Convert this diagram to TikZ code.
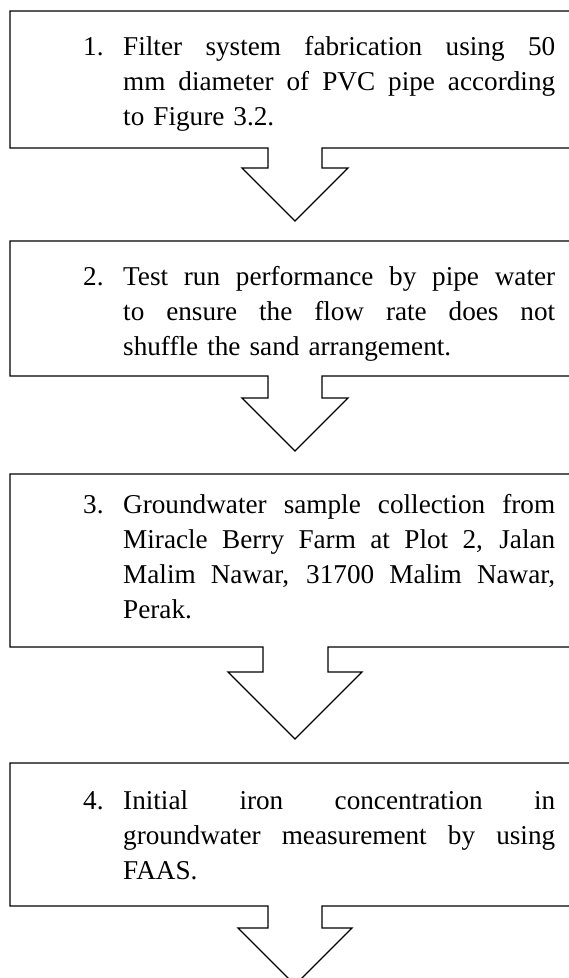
\documentclass[tikz,border=0pt]{standalone}
\usepackage{fontspec}
\setmainfont{Liberation Serif}
\newcommand\jline[1]{\leavevmode{\spaceskip=0.25em plus 1fill\relax\hbox to 432pt{#1}}}
\begin{document}
\begin{tikzpicture}[x=1pt,y=-1pt,
  outline/.style={draw=black,line width=1.3pt,line join=miter},
  txt/.style={anchor=base west,inner sep=0pt,text width=432pt,align=left,
    font=\fontsize{27.2}{35}\selectfont},
  num/.style={anchor=base west,inner sep=0pt,font=\fontsize{27.2}{35}\selectfont}]
\useasboundingbox (0,0) rectangle (569,978);
\clip (0,0) rectangle (569,978);
% box 1
\draw[outline] (590,11) -- (10,11) -- (10,148) -- (268,148) -- (268,168) -- (242,168)
  -- (295,221) -- (348,168) -- (322,168) -- (322,148) -- (590,148);
\node[num] (n1) at (83,55) {1.};
\node[txt] (t1) at (123,55) {\jline{Filter system fabrication using 50}\\
  \jline{mm diameter of PVC pipe according}\\ to Figure 3.2.};
% box 2
\draw[outline] (590,241) -- (10,241) -- (10,376) -- (268,376) -- (268,398) -- (242,398)
  -- (295,451) -- (348,398) -- (322,398) -- (322,376) -- (590,376);
\node[num] (n2) at (83,285) {2.};
\node[txt] (t2) at (123,285) {\jline{Test run performance by pipe water}\\
  \jline{to ensure the flow rate does not}\\ shuffle the sand arrangement.};
% box 3
\draw[outline] (590,474) -- (10,474) -- (10,647) -- (263,647) -- (263,672) -- (228,672)
  -- (295,739) -- (362,672) -- (328,672) -- (328,647) -- (590,647);
\node[num] (n3) at (83,513) {3.};
\node[txt] (t3) at (123,513) {\jline{Groundwater sample collection from}\\
  \jline{Miracle Berry Farm at Plot 2, Jalan}\\
  \jline{Malim Nawar, 31700 Malim Nawar,}\\ Perak.};
% box 4
\draw[outline] (590,763) -- (10,763) -- (10,906) -- (268,906) -- (268,928) -- (238,928)
  -- (295,985) -- (352,928) -- (322,928) -- (322,906) -- (590,906);
\node[num] (n4) at (83,809) {4.};
\node[txt] (t4) at (123,809) {\jline{Initial iron concentration in}\\
  \jline{groundwater measurement by using}\\ FAAS.};
\end{tikzpicture}
\end{document}
